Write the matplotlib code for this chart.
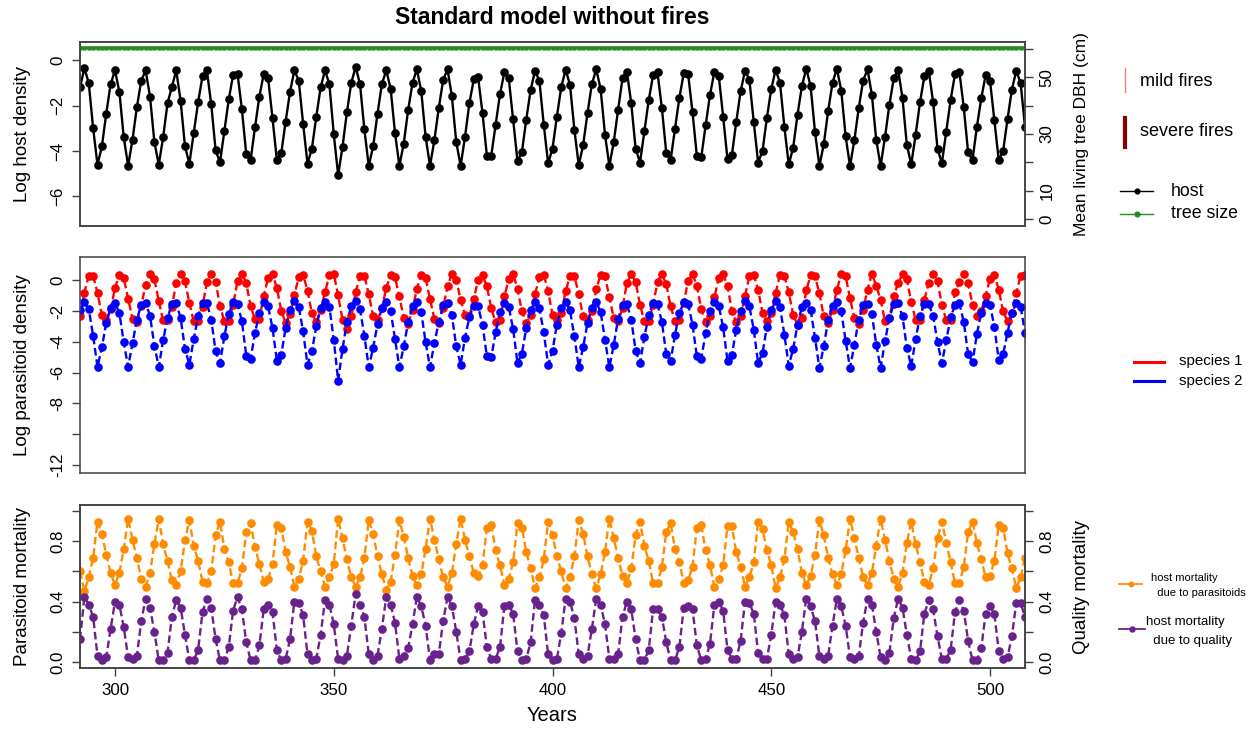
import matplotlib
matplotlib.use("Agg")
import matplotlib.pyplot as plt
from matplotlib.lines import Line2D

plt.rcParams['font.family'] = ['Liberation Sans', 'DejaVu Sans']

# ---------------- data ----------------
years = list(range(292, 509))

host = [
    -1.2, -0.35, -1.0, -3.0, -4.6, -3.8, -2.35, -1.05,
    -0.45, -1.4, -3.4, -4.65, -3.5, -2.07, -0.9, -0.45, -1.6, -3.6,
    -4.6, -3.4, -1.9, -1.17, -0.45, -1.8, -3.8, -4.55, -3.2, -1.85,
    -0.7, -0.45, -1.95, -3.97, -4.5, -3.1, -1.73, -0.65, -0.6, -2.15,
    -4.14, -4.4, -2.95, -1.6, -0.6, -0.8, -2.55, -4.4, -4.1, -2.7,
    -1.4, -0.45, -0.9, -2.8, -4.55, -3.9, -2.5, -1.2, -0.45, -1.05,
    -3.25, -5.05, -3.82, -2.3, -1.0, -0.3, -1.05, -3.05, -4.65, -3.8,
    -2.36, -1.05, -0.45, -1.25, -3.2, -4.65, -3.67, -2.2, -1.0, -0.4,
    -1.37, -3.38, -4.65, -3.52, -2.11, -0.88, -0.4, -1.59, -3.6, -4.65,
    -3.38, -1.9, -0.85, -0.76, -2.33, -4.2, -4.2, -2.84, -1.49, -0.54,
    -0.8, -2.6, -4.44, -4.06, -2.62, -1.31, -0.47, -0.9, -2.84, -4.54,
    -3.89, -2.48, -1.19, -0.42, -1.09, -3.06, -4.62, -3.74, -2.33, -1.05,
    -0.4, -1.27, -3.28, -4.65, -3.6, -2.18, -0.8, -0.5, -1.9, -3.89,
    -4.51, -3.12, -1.75, -0.66, -0.54, -2.11, -4.08, -4.4, -3.01, -1.66,
    -0.57, -0.61, -2.29, -4.22, -4.28, -2.87, -1.53, -0.51, -0.68, -2.48,
    -4.37, -4.18, -2.72, -1.37, -0.47, -0.86, -2.72, -4.51, -4.0, -2.55,
    -1.27, -0.42, -1.0, -2.94, -4.59, -3.86, -2.4, -1.15, -0.37, -1.15,
    -3.16, -4.66, -3.71, -2.24, -1.0, -0.37, -1.34, -3.35, -4.66, -3.52,
    -2.1, -0.9, -0.4, -1.53, -3.52, -4.66, -3.38, -1.97, -0.8, -0.42,
    -1.68, -3.74, -4.59, -3.28, -1.85, -0.71, -0.47, -1.85, -3.89, -4.54,
    -3.16, -1.75, -0.61, -0.51, -2.07, -4.06, -4.4, -2.94, -1.68, -0.66,
    -0.9, -2.65, -4.4, -4.0, -2.6, -1.3, -0.47, -1.0, -2.94,
]

tree_size = [60.2] * len(years)

species1 = [
    -2.3, -0.8, 0.3, 0.3, -0.82, -2.27, -2.55, -1.86,
    -0.5, 0.37, 0.15, -1.19, -2.5, -2.73, -1.65, -0.28, 0.41, 0.09,
    -1.36, -2.6, -2.6, -1.7, -0.17, 0.41, -0.06, -1.47, -2.66, -2.66,
    -1.7, -0.13, 0.43, -0.1, -1.64, -2.66, -2.66, -1.58, -0.06, 0.43,
    -0.17, -1.69, -2.51, -2.51, -1.0, 0.15, 0.43, -0.5, -1.97, -2.77,
    -2.19, -0.93, 0.19, 0.37, -0.67, -2.12, -2.73, -1.9, -0.78, 0.37,
    0.41, -0.97, -2.55, -3.14, -2.34, -0.78, 0.3, 0.3, -0.89, -2.34,
    -2.6, -1.8, -0.5, 0.35, 0.2, -1.04, -2.45, -2.81, -1.9, -0.54,
    0.37, 0.15, -1.21, -2.51, -2.77, -1.8, -0.39, 0.41, 0.04, -1.26,
    -2.27, -2.34, -1.21, 0.04, 0.32, -0.39, -1.8, -2.73, -2.55, -1.04,
    0.09, 0.41, -0.56, -2.01, -2.77, -2.23, -0.89, 0.19, 0.37, -0.71,
    -2.23, -2.55, -2.12, -0.71, 0.3, 0.3, -0.89, -2.34, -2.55, -2.0,
    -0.56, 0.37, 0.26, -1.08, -2.45, -2.66, -1.8, -0.17, 0.41, -0.1,
    -1.58, -2.66, -2.66, -1.58, -0.1, 0.41, -0.24, -1.69, -2.66, -2.55,
    -1.47, -0.02, 0.41, -0.35, -1.86, -2.73, -2.34, -1.1, 0.15, 0.41,
    -0.39, -1.97, -2.73, -2.34, -1.0, 0.26, 0.32, -0.61, -2.12, -2.66,
    -2.12, -0.82, 0.37, 0.3, -0.78, -2.23, -2.88, -2.45, -0.65, 0.32,
    0.26, -0.82, -2.34, -2.77, -1.9, -0.61, 0.41, 0.26, -1.15, -2.45,
    -2.81, -1.9, -0.61, 0.43, -0.35, -1.26, -2.66, -2.45, -1.04, -0.17,
    0.41, 0.09, -1.43, -2.55, -2.55, -1.26, -0.17, 0.41, -0.06, -1.58,
    -2.6, -2.55, -0.78, -0.11, 0.41, -0.17, -1.58, -2.34, -2.01, -1.0,
    0.11, 0.37, -0.61, -2.01, -2.66, -2.12, -0.82, 0.3, 0.37,
]

species2 = [
    -1.9, -1.4, -1.86, -3.6, -5.63, -4.35, -2.77, -1.8,
    -1.47, -2.12, -4.03, -5.63, -4.07, -2.55, -1.58, -1.47, -2.29, -4.24,
    -5.63, -3.9, -2.45, -1.54, -1.47, -2.45, -4.46, -5.48, -3.81, -2.34,
    -1.47, -1.47, -2.55, -4.61, -5.37, -3.64, -2.19, -1.43, -1.52, -2.66,
    -4.89, -5.09, -3.42, -2.12, -1.43, -1.69, -3.1, -5.22, -4.83, -3.1,
    -1.9, -1.36, -1.73, -3.31, -5.48, -4.61, -2.99, -1.8, -1.4, -1.73,
    -3.85, -6.52, -4.46, -2.73, -1.69, -1.36, -1.86, -3.6, -5.65, -4.39,
    -2.84, -1.8, -1.4, -1.97, -3.81, -5.65, -4.29, -2.73, -1.69, -1.4,
    -2.08, -4.03, -5.65, -4.07, -2.73, -1.62, -1.47, -2.27, -4.29, -5.48,
    -3.74, -2.38, -1.64, -1.69, -2.88, -4.93, -5.0, -3.38, -2.08, -1.47,
    -1.73, -3.16, -5.37, -4.78, -3.1, -1.9, -1.43, -1.8, -3.38, -5.48,
    -4.57, -2.88, -1.8, -1.4, -1.95, -3.64, -5.63, -4.35, -2.77, -1.8,
    -1.4, -2.06, -3.85, -5.65, -4.18, -2.51, -1.58, -1.52, -2.55, -4.57,
    -5.37, -3.68, -2.27, -1.47, -1.52, -2.71, -4.78, -5.26, -3.53, -2.12,
    -1.43, -1.52, -2.88, -4.93, -5.09, -3.42, -2.01, -1.43, -1.64, -3.05,
    -5.22, -4.83, -3.2, -2.01, -1.36, -1.69, -3.2, -5.37, -4.72, -3.03,
    -1.9, -1.36, -1.73, -3.53, -5.54, -4.46, -2.88, -1.73, -1.47, -1.9,
    -3.74, -5.69, -4.29, -2.6, -1.69, -1.43, -2.01, -3.92, -5.69, -4.18,
    -2.55, -1.58, -1.54, -2.19, -4.18, -5.69, -3.96, -2.45, -1.52, -1.47,
    -2.34, -4.39, -5.58, -3.81, -2.34, -1.52, -1.54, -2.3, -4.0, -5.4,
    -3.9, -2.4, -1.6, -1.5, -2.7, -4.8, -5.3, -3.5, -2.1, -1.45,
    -1.6, -3.0, -5.2, -4.8, -3.4, -2.1, -1.5, -1.7, -3.4,
]

mort_parasitoids = [
    0.6, 0.47, 0.56, 0.69, 0.93, 0.85, 0.71, 0.59,
    0.51, 0.59, 0.75, 0.95, 0.81, 0.69, 0.55, 0.5, 0.59, 0.78,
    0.95, 0.78, 0.67, 0.54, 0.51, 0.6, 0.81, 0.94, 0.77, 0.67,
    0.53, 0.52, 0.6, 0.84, 0.93, 0.75, 0.66, 0.52, 0.52, 0.62,
    0.86, 0.92, 0.76, 0.65, 0.53, 0.55, 0.65, 0.91, 0.89, 0.73,
    0.63, 0.5, 0.55, 0.67, 0.93, 0.87, 0.7, 0.6, 0.5, 0.56,
    0.65, 0.95, 0.82, 0.68, 0.56, 0.5, 0.56, 0.69, 0.94, 0.85,
    0.7, 0.58, 0.48, 0.53, 0.71, 0.94, 0.83, 0.69, 0.57, 0.51,
    0.58, 0.75, 0.95, 0.81, 0.68, 0.56, 0.5, 0.59, 0.78, 0.95,
    0.81, 0.7, 0.59, 0.57, 0.64, 0.89, 0.91, 0.74, 0.64, 0.51,
    0.55, 0.66, 0.92, 0.89, 0.73, 0.62, 0.49, 0.56, 0.68, 0.93,
    0.84, 0.7, 0.6, 0.49, 0.56, 0.7, 0.94, 0.85, 0.7, 0.58,
    0.49, 0.58, 0.73, 0.95, 0.82, 0.69, 0.57, 0.52, 0.62, 0.84,
    0.93, 0.77, 0.67, 0.52, 0.52, 0.63, 0.86, 0.92, 0.75, 0.66,
    0.52, 0.54, 0.63, 0.89, 0.91, 0.74, 0.64, 0.5, 0.55, 0.64,
    0.9, 0.9, 0.73, 0.63, 0.5, 0.56, 0.66, 0.93, 0.88, 0.74,
    0.64, 0.49, 0.56, 0.68, 0.93, 0.86, 0.75, 0.59, 0.51, 0.57,
    0.71, 0.94, 0.84, 0.69, 0.58, 0.51, 0.58, 0.74, 0.95, 0.82,
    0.69, 0.56, 0.51, 0.59, 0.77, 0.95, 0.81, 0.67, 0.55, 0.5,
    0.59, 0.79, 0.93, 0.78, 0.66, 0.53, 0.51, 0.62, 0.82, 0.93,
    0.79, 0.66, 0.52, 0.52, 0.63, 0.86, 0.93, 0.79, 0.68, 0.56,
    0.57, 0.67, 0.91, 0.89, 0.72, 0.62, 0.49, 0.56, 0.69,
]

mort_quality = [
    0.15, 0.43, 0.38, 0.3, 0.04, 0.01, 0.03, 0.22,
    0.4, 0.38, 0.23, 0.03, 0.02, 0.04, 0.27, 0.42, 0.36, 0.2,
    0.01, 0.01, 0.06, 0.3, 0.41, 0.36, 0.18, 0.01, 0.01, 0.08,
    0.33, 0.42, 0.36, 0.15, 0.01, 0.01, 0.1, 0.34, 0.43, 0.35,
    0.13, 0.01, 0.01, 0.11, 0.35, 0.38, 0.33, 0.08, 0.01, 0.02,
    0.15, 0.4, 0.39, 0.31, 0.05, 0.01, 0.02, 0.18, 0.41, 0.38,
    0.25, 0.02, 0.01, 0.04, 0.24, 0.45, 0.38, 0.3, 0.05, 0.01,
    0.04, 0.22, 0.43, 0.38, 0.26, 0.02, 0.04, 0.09, 0.25, 0.43,
    0.37, 0.24, 0.01, 0.05, 0.05, 0.27, 0.43, 0.37, 0.2, 0.01,
    0.02, 0.07, 0.25, 0.37, 0.33, 0.1, 0.02, 0.02, 0.1, 0.37,
    0.38, 0.32, 0.07, 0.01, 0.02, 0.13, 0.41, 0.38, 0.31, 0.05,
    0.01, 0.02, 0.19, 0.42, 0.4, 0.29, 0.05, 0.02, 0.04, 0.22,
    0.42, 0.38, 0.25, 0.02, 0.02, 0.05, 0.3, 0.4, 0.35, 0.15,
    0.01, 0.01, 0.08, 0.35, 0.35, 0.3, 0.13, 0.01, 0.01, 0.1,
    0.36, 0.37, 0.35, 0.11, 0.01, 0.02, 0.12, 0.38, 0.4, 0.34,
    0.08, 0.02, 0.02, 0.14, 0.4, 0.39, 0.32, 0.06, 0.02, 0.02,
    0.18, 0.4, 0.38, 0.31, 0.05, 0.02, 0.03, 0.2, 0.42, 0.37,
    0.27, 0.04, 0.02, 0.04, 0.24, 0.42, 0.37, 0.24, 0.03, 0.02,
    0.04, 0.26, 0.42, 0.38, 0.2, 0.03, 0.01, 0.06, 0.29, 0.42,
    0.36, 0.18, 0.02, 0.01, 0.07, 0.32, 0.41, 0.35, 0.17, 0.02,
    0.02, 0.08, 0.33, 0.41, 0.34, 0.14, 0.01, 0.01, 0.09, 0.32,
    0.37, 0.32, 0.07, 0.02, 0.03, 0.17, 0.39, 0.39, 0.3,
]

x_ticks = [300, 350, 400, 450, 500]
host_ticks = [0, -2, -4, -6]
dbh_ticks = [0, 10, 20, 30, 40, 50, 60]
dbh_labels = ['0', '10', '', '30', '', '50', '']
para_ticks = [0, -2, -4, -6, -8, -10, -12]
para_labels = ['0', '-2', '-4', '-6', '-8', '', '-12']
mort_ticks = [0.0, 0.2, 0.4, 0.6, 0.8, 1.0]
mort_labels = ['0.0', '', '0.4', '', '0.8', '']

# ---------------- colours ----------------
C_HOST = 'black'
C_TREE = '#228B22'
C_SP1 = '#FF0000'
C_SP2 = '#0000FF'
C_PARA = '#FF8C00'
C_QUAL = '#68228B'
C_MILD = '#F08080'
C_SEVERE = '#8B0000'
FRAME = '#404040'

W, H = 1252, 730
fig = plt.figure(figsize=(W / 100, H / 100), dpi=100)


def rect(x0, y0, x1, y1):
    return [x0 / W, 1 - y1 / H, (x1 - x0) / W, (y1 - y0) / H]


def style(ax):
    for s in ax.spines.values():
        s.set_color(FRAME)
        s.set_linewidth(1.1)
    ax.tick_params(axis='both', direction='out', length=6, width=1,
                   color=FRAME, labelsize=12.2, pad=4.6)
    ax.tick_params(axis='y', labelrotation=90)
    for lbl in ax.get_yticklabels():
        lbl.set_va('center')


ax1 = fig.add_axes(rect(80, 42, 1025, 226))
ax2 = fig.add_axes(rect(80, 257, 1025, 473))
ax3 = fig.add_axes(rect(80, 505, 1025, 668))

XL = (292, 508)
mk = dict(marker='o', markersize=6.2, markeredgewidth=0)
DASH = (0, (3.2, 1.6))

# --- top panel ---
ax1.plot(years, host, color=C_HOST, lw=1.7, **mk)
ax1.set_xlim(*XL)
ax1.set_ylim(-7.3, 0.8)
ax1.set_yticks(host_ticks)
ax1.set_xticks([])
ax1.set_ylabel('Log host density', fontsize=13.5)
ax1.yaxis.set_label_coords((31 - 80) / 945, 0.5)
style(ax1)

ax1b = ax1.twinx()
ax1b.plot(years, tree_size, color=C_TREE, lw=2.6, marker='^', markersize=3.0,
          markeredgewidth=0)
ax1b.set_ylim(-2.4, 62.4)
ax1b.set_yticks(dbh_ticks)
ax1b.set_yticklabels(dbh_labels)
ax1b.set_xlim(*XL)
ax1b.set_ylabel('Mean living tree DBH (cm)', fontsize=12.5)
ax1b.yaxis.set_label_coords((1074 - 80) / 945, 0.5)
style(ax1b)

# --- middle panel ---
ax2.plot(years, species1, color=C_SP1, lw=1.7, ls=DASH, **mk)
ax2.plot(years, species2, color=C_SP2, lw=1.7, ls=DASH, **mk)
ax2.set_xlim(*XL)
ax2.set_ylim(-12.52, 1.52)
ax2.set_yticks(para_ticks)
ax2.set_yticklabels(para_labels)
ax2.set_xticks([])
ax2.set_ylabel('Log parasitoid density', fontsize=13.5)
ax2.yaxis.set_label_coords((31 - 80) / 945, 0.5)
style(ax2)

# --- bottom panel ---
ax3.plot(years, mort_parasitoids, color=C_PARA, lw=1.7, ls=DASH, **mk)
ax3.plot(years, mort_quality, color=C_QUAL, lw=1.7, ls=DASH, **mk)
ax3.set_xlim(*XL)
ax3.set_ylim(-0.04, 1.04)
ax3.set_yticks(mort_ticks)
ax3.set_yticklabels(mort_labels)
ax3.set_xticks(x_ticks)
ax3.set_xlabel('Years', fontsize=14.5)
ax3.xaxis.set_label_coords(0.5, (668 - 706) / 163)
ax3.xaxis.label.set_va('top')
ax3.set_ylabel('Parasitoid mortality', fontsize=13.5)
ax3.yaxis.set_label_coords((31 - 80) / 945, 0.5)
style(ax3)

ax3b = ax3.twinx()
ax3b.set_ylim(-0.04, 1.04)
ax3b.set_yticks(mort_ticks)
ax3b.set_yticklabels(mort_labels)
ax3b.set_ylabel('Quality mortality', fontsize=13.5)
ax3b.yaxis.set_label_coords((1073 - 80) / 945, 0.5)
style(ax3b)

# --- title ---
fig.text(552 / W, 1 - 18 / H, 'Standard model without fires', ha='center',
         va='center', fontsize=16.5, fontweight='bold')

# --- legends (figure pixel coordinates) ---
def px_line(xs, ys, **kw):
    fig.add_artist(Line2D([x / W for x in xs], [1 - y / H for y in ys],
                          transform=fig.transFigure, **kw))


def px_text(x, y, s, **kw):
    fig.text(x / W, 1 - y / H, s, ha='left', va='center', **kw)


px_line([1125, 1125], [68, 92], color=C_MILD, lw=1.0)
px_text(1140, 81, 'mild fires', fontsize=13)
px_line([1125, 1125], [118, 147], color=C_SEVERE, lw=3.0)
px_text(1140, 132, 'severe fires', fontsize=13)

px_line([1120, 1153], [191, 191], color=C_HOST, lw=1.0)
px_line([1136.5], [191], color=C_HOST, marker='o', markersize=3.4, lw=0)
px_text(1171, 191, 'host', fontsize=12.8)
px_line([1120, 1153], [214, 214], color=C_TREE, lw=1.0)
px_line([1136.5], [214], color=C_TREE, marker='o', markersize=3.4, lw=0)
px_text(1171, 214, 'tree size', fontsize=12.8)

px_line([1134, 1164], [362, 362], color=C_SP1, lw=2.2)
px_text(1179, 361, 'species 1', fontsize=10.8)
px_line([1134, 1164], [381, 381], color=C_SP2, lw=2.2)
px_text(1179, 381, 'species 2', fontsize=10.8)

px_line([1119, 1142], [584, 584], color=C_PARA, lw=1.3)
px_line([1130.5], [584], color=C_PARA, marker='o', markersize=3.2, lw=0)
px_text(1151, 578, 'host mortality', fontsize=8)
px_text(1151, 593, '  due to parasitoids', fontsize=8)
px_line([1119, 1145], [629, 629], color=C_QUAL, lw=1.3)
px_line([1132], [629], color=C_QUAL, marker='o', markersize=3.6, lw=0)
px_text(1146, 622, 'host mortality', fontsize=9.5)
px_text(1146, 641, '  due to quality', fontsize=9.5)

fig.savefig('out.png', dpi=100, facecolor='white')
